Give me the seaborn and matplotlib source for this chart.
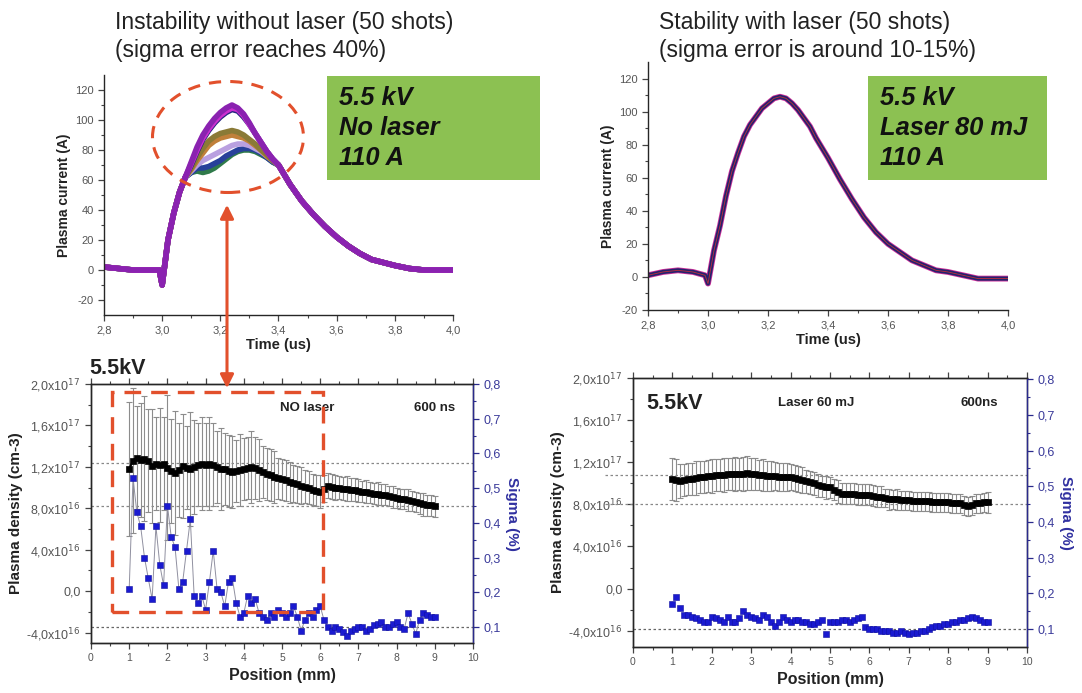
import numpy as np
import pandas as pd
import matplotlib.pyplot as plt
from matplotlib.patches import Ellipse, Rectangle, FancyArrowPatch
import seaborn as sns

sns.set_style('ticks')
plt.rcParams['font.family'] = ['Liberation Sans', 'DejaVu Sans']
plt.rcParams['axes.linewidth'] = 1.0
plt.rcParams['axes.unicode_minus'] = False

W, H = 1082, 693

# ---- plasma current traces (A) vs time (us) ----
time_us = [2.80, 2.85, 2.90, 2.95, 2.99, 3.00, 3.02, 3.04, 3.06, 3.08,
           3.10, 3.12, 3.14, 3.16, 3.18, 3.20, 3.22, 3.24, 3.26, 3.28,
           3.30, 3.32, 3.34, 3.36, 3.38, 3.40, 3.44, 3.48, 3.52, 3.56,
           3.60, 3.64, 3.68, 3.72, 3.76, 3.80, 3.85, 3.90, 3.95, 4.00]

# no laser: common rise / common decay, shot-to-shot spread around the peak
rise_nolaser = [2, 1, 0, 0, 0, -10, 20, 38, 52, 62]
tail_nolaser = [57, 46, 37, 29, 22, 16, 11, 7, 5, 3, 1, 0, 0, 0]
peak_green = [65, 66, 65, 66, 68, 71, 74, 77, 79, 80, 80, 79, 77, 75, 72, 70]
peak_blue = [65, 68, 68, 69, 71, 73, 76, 78, 80, 81, 81, 80, 78, 75, 72, 70]
peak_lilac = [66, 70, 73, 75, 77, 79, 81, 83, 84, 84, 83, 81, 79, 76, 73, 70]
peak_orange = [67, 73, 78, 83, 86, 88, 89, 90, 89, 88, 86, 83, 80, 76, 73, 70]
peak_olive = [68, 75, 81, 86, 89, 91, 92, 93, 92, 90, 87, 84, 80, 77, 73, 70]
peak_navy = [70, 79, 87, 93, 98, 102, 105, 107, 106, 102, 97, 91, 85, 79, 74, 70]
peak_purple = [72, 82, 90, 96, 101, 105, 108, 110, 108, 104, 98, 91, 85, 79, 74, 70]
peak_magenta = [71, 80, 88, 94, 99, 103, 106, 108, 107, 103, 97, 91, 85, 79, 74, 70]

# laser 80 mJ: all 50 shots overlap
current_laser = [1, 3, 4, 3, 1, -4, 16, 31, 49, 64,
                 75, 85, 92, 97, 102, 105, 108, 109, 108, 105,
                 101, 96, 91, 84, 78, 72, 59, 47, 36, 27,
                 20, 15, 10, 7, 4, 3, 1, -1, -1, -1]

# ---- plasma density (1e16 cm-3) and sigma vs position (mm) ----
position_mm = [1.0, 1.1, 1.2, 1.3, 1.4, 1.5, 1.6, 1.7, 1.8, 1.9,
               2.0, 2.1, 2.2, 2.3, 2.4, 2.5, 2.6, 2.7, 2.8, 2.9,
               3.0, 3.1, 3.2, 3.3, 3.4, 3.5, 3.6, 3.7, 3.8, 3.9,
               4.0, 4.1, 4.2, 4.3, 4.4, 4.5, 4.6, 4.7, 4.8, 4.9,
               5.0, 5.1, 5.2, 5.3, 5.4, 5.5, 5.6, 5.7, 5.8, 5.9,
               6.0, 6.1, 6.2, 6.3, 6.4, 6.5, 6.6, 6.7, 6.8, 6.9,
               7.0, 7.1, 7.2, 7.3, 7.4, 7.5, 7.6, 7.7, 7.8, 7.9,
               8.0, 8.1, 8.2, 8.3, 8.4, 8.5, 8.6, 8.7, 8.8, 8.9, 9.0]

dens_nolaser = [11.8, 12.6, 12.9, 12.7, 12.8, 12.6, 12.1, 12.3, 12.2, 12.3,
                11.9, 11.6, 11.4, 11.7, 12.1, 11.9, 11.8, 12.0, 12.2, 12.3,
                12.2, 12.3, 12.2, 12.0, 11.8, 11.8, 11.6, 11.5, 11.6, 11.7,
                11.8, 11.9, 12.0, 11.9, 11.7, 11.5, 11.3, 11.2, 11.0, 10.9,
                10.8, 10.7, 10.5, 10.4, 10.3, 10.2, 10.1, 10.0, 9.8, 9.7,
                9.6, 9.9, 10.2, 10.1, 10.0, 10.0, 9.9, 9.9, 9.8, 9.8,
                9.7, 9.6, 9.6, 9.5, 9.4, 9.4, 9.3, 9.3, 9.2, 9.1,
                9.0, 8.9, 8.9, 8.8, 8.7, 8.6, 8.5, 8.4, 8.3, 8.3, 8.2]
err_nolaser = [6.5, 7.0, 5.0, 5.5, 6.0, 5.0, 5.5, 4.5, 5.5, 4.5,
               7.0, 5.0, 6.0, 4.5, 5.0, 4.0, 5.5, 4.5, 4.0, 4.5,
               4.0, 4.5, 4.0, 3.5, 4.0, 3.5, 3.5, 3.5, 3.0, 3.5,
               3.0, 3.0, 3.5, 3.0, 3.0, 2.5, 2.5, 2.5, 2.5, 2.0,
               2.0, 2.0, 2.0, 1.8, 1.8, 1.8, 1.6, 1.6, 1.5, 1.5,
               1.6, 1.3, 1.2, 1.2, 1.2, 1.1, 1.1, 1.2, 1.1, 1.1,
               1.1, 1.0, 1.1, 1.0, 1.0, 1.1, 1.0, 1.0, 1.0, 1.1,
               1.0, 1.0, 1.0, 1.1, 1.0, 1.0, 1.0, 1.1, 1.0, 1.0, 1.0]
sigma_nolaser = [0.21, 0.53, 0.43, 0.39, 0.30, 0.24, 0.18, 0.39, 0.28, 0.22,
                 0.45, 0.36, 0.33, 0.21, 0.23, 0.32, 0.41, 0.19, 0.17, 0.19,
                 0.15, 0.23, 0.32, 0.21, 0.20, 0.16, 0.23, 0.24, 0.17, 0.13,
                 0.14, 0.19, 0.17, 0.18, 0.14, 0.13, 0.12, 0.14, 0.13, 0.15,
                 0.14, 0.13, 0.14, 0.16, 0.13, 0.09, 0.12, 0.14, 0.13, 0.15,
                 0.16, 0.12, 0.10, 0.09, 0.10, 0.095, 0.085, 0.075, 0.09, 0.095,
                 0.10, 0.10, 0.09, 0.095, 0.105, 0.11, 0.115, 0.10, 0.10, 0.11,
                 0.115, 0.10, 0.095, 0.14, 0.11, 0.08, 0.12, 0.14, 0.135, 0.13, 0.13]

dens_laser = [10.4, 10.3, 10.2, 10.3, 10.4, 10.4, 10.5, 10.6, 10.6, 10.7,
              10.7, 10.8, 10.8, 10.8, 10.9, 10.9, 10.9, 10.9, 10.9, 11.0,
              10.9, 10.9, 10.8, 10.8, 10.7, 10.7, 10.7, 10.6, 10.6, 10.6,
              10.6, 10.5, 10.4, 10.3, 10.2, 10.1, 10.0, 9.8, 9.7, 9.6,
              9.6, 9.4, 9.2, 9.0, 9.0, 9.0, 9.0, 8.9, 8.9, 8.9,
              8.9, 8.8, 8.7, 8.7, 8.6, 8.5, 8.5, 8.5, 8.4, 8.4,
              8.4, 8.3, 8.3, 8.3, 8.3, 8.3, 8.2, 8.2, 8.2, 8.2,
              8.2, 8.1, 8.1, 8.1, 7.9, 7.8, 7.9, 8.1, 8.1, 8.2, 8.2]
err_laser = [2.0, 2.0, 1.6, 1.5, 1.5, 1.5, 1.6, 1.5, 1.5, 1.5,
             1.6, 1.5, 1.5, 1.6, 1.5, 1.5, 1.6, 1.5, 1.6, 1.6,
             1.5, 1.5, 1.4, 1.5, 1.4, 1.4, 1.3, 1.3, 1.3, 1.3,
             1.2, 1.2, 1.2, 1.2, 1.1, 1.1, 1.1, 1.1, 1.0, 1.1,
             1.0, 1.0, 1.1, 1.0, 1.0, 1.0, 1.0, 1.0, 1.0, 1.0,
             1.0, 1.0, 1.0, 1.0, 0.9, 1.0, 0.9, 1.0, 0.9, 0.9,
             0.9, 0.9, 0.9, 0.9, 0.9, 0.9, 0.9, 0.9, 0.9, 0.9,
             0.9, 0.9, 0.9, 0.9, 0.9, 0.9, 0.9, 0.9, 0.9, 0.9, 1.0]
sigma_laser = [0.17, 0.19, 0.16, 0.14, 0.14, 0.135, 0.13, 0.125, 0.12, 0.12,
               0.135, 0.13, 0.125, 0.12, 0.135, 0.12, 0.12, 0.13, 0.15, 0.14,
               0.135, 0.13, 0.125, 0.14, 0.135, 0.12, 0.11, 0.12, 0.135, 0.125,
               0.12, 0.125, 0.125, 0.12, 0.12, 0.115, 0.115, 0.12, 0.125, 0.085,
               0.12, 0.12, 0.12, 0.125, 0.125, 0.12, 0.125, 0.13, 0.135, 0.105,
               0.10, 0.10, 0.10, 0.095, 0.095, 0.095, 0.09, 0.09, 0.095, 0.09,
               0.085, 0.09, 0.09, 0.095, 0.095, 0.10, 0.105, 0.11, 0.11, 0.115,
               0.115, 0.12, 0.12, 0.125, 0.125, 0.13, 0.135, 0.13, 0.125, 0.12, 0.12]

TICK_GREY = '#555555'
NAVY = '#2a2a8c'
RED = '#e2502c'
GREEN = '#8cc152'


def px_axes(fig, left, top, right, bottom):
    return fig.add_axes([left / W, 1 - bottom / H, (right - left) / W, (bottom - top) / H])


def comma(v, fmt):
    return (fmt % v).replace('.', ',')


def style_current_axes(ax, ylim):
    ax.set_xlim(2.8, 4.0)
    ax.set_ylim(*ylim)
    sns.despine(ax=ax)
    xt = [2.8, 3.0, 3.2, 3.4, 3.6, 3.8, 4.0]
    ax.set_xticks(xt)
    ax.set_xticklabels([comma(v, '%.1f') for v in xt])
    ax.set_yticks([-20, 0, 20, 40, 60, 80, 100, 120])
    ax.set_xticks(np.arange(2.9, 4.0, 0.2), minor=True)
    ax.set_yticks(np.arange(-10, 130, 20), minor=True)
    ax.tick_params(which='major', length=4, width=0.9, labelsize=8, labelcolor=TICK_GREY, color='#444444')
    ax.tick_params(which='minor', length=2, width=0.8, color='#444444')
    ax.set_xlabel('Time (us)', fontsize=10.5, fontweight='bold', labelpad=2, color='#222222')
    ax.set_ylabel('Plasma current (A)', fontsize=10, fontweight='bold', labelpad=3, color='#222222')


def style_density_axes(ax, sig_lim):
    ax.set_xlim(0, 10)
    ax.set_xticks(range(0, 11))
    ax.set_xticks(np.arange(0.5, 10, 1.0), minor=True)
    ax.set_yticks([-4, 0, 4, 8, 12, 16, 20])
    ax.set_yticklabels(['-4,0x10$^{16}$', '0,0', '4,0x10$^{16}$', '8,0x10$^{16}$',
                        '1,2x10$^{17}$', '1,6x10$^{17}$', '2,0x10$^{17}$'])
    ax.set_yticks(np.arange(-2, 20, 4), minor=True)
    ax.tick_params(which='both', top=True, color='#444444')
    ax.tick_params(which='major', length=4, width=0.9, labelcolor=TICK_GREY)
    ax.tick_params(axis='x', which='major', labelsize=7.5)
    ax.tick_params(axis='y', which='major', labelsize=9)
    ax.tick_params(which='minor', length=2, width=0.8)
    ax.set_xlabel('Position (mm)', fontsize=11.5, fontweight='bold', labelpad=3, color='#222222')
    ax.set_ylabel('Plasma density (cm-3)', fontsize=11, fontweight='bold', labelpad=2, color='#222222')
    tw = ax.twinx()
    tw.set_ylim(*sig_lim)
    st = [0.1, 0.2, 0.3, 0.4, 0.5, 0.6, 0.7, 0.8]
    tw.set_yticks(st)
    tw.set_yticklabels([comma(v, '%.1f') for v in st])
    tw.set_yticks(np.arange(0.15, 0.8, 0.1), minor=True)
    tw.tick_params(which='major', length=4, width=0.9, labelsize=9, labelcolor='#3a3a9a', color=NAVY)
    tw.tick_params(which='minor', length=2, width=0.8, color=NAVY)
    tw.spines['right'].set_color(NAVY)
    tw.set_ylabel('Sigma (%)', fontsize=11, fontweight='bold', color='#3030a0', rotation=270, labelpad=13)
    return tw


def density_panel(ax, dens, err, sig_lim):
    pos = np.array(position_mm)
    ax.errorbar(pos, dens, yerr=err, fmt='none', ecolor='#8c8c8c', elinewidth=0.8,
                capsize=2.2, capthick=0.8, zorder=2)
    ax.plot(pos, dens, color='black', lw=1.5, zorder=3)
    sns.scatterplot(x=pos, y=dens, ax=ax, marker='s', s=24, color='black',
                    edgecolor='black', linewidth=0.5, zorder=4)
    return style_density_axes(ax, sig_lim)


fig = plt.figure(figsize=(W / 100, H / 100), dpi=100)

# ---------------- top left: no laser ----------------
ax1 = px_axes(fig, 104, 75, 453, 315)
shots = {
    'green': (peak_green, '#2f7a4a'),
    'blue': (peak_blue, '#27409a'),
    'lilac': (peak_lilac, '#b9a0e0'),
    'orange': (peak_orange, '#c0803a'),
    'olive': (peak_olive, '#8a7a36'),
    'navy': (peak_navy, '#252580'),
    'magenta': (peak_magenta, '#cc2fcf'),
    'purple': (peak_purple, '#8a22b0'),
}
rows = []
for name, (peak, _) in shots.items():
    vals = rise_nolaser + peak + tail_nolaser
    for t, v in zip(time_us, vals):
        rows.append({'t': t, 'I': v, 'shot': name})
df_nolaser = pd.DataFrame(rows)
sns.lineplot(data=df_nolaser, x='t', y='I', hue='shot', ax=ax1, legend=False,
             palette={k: c for k, (_, c) in shots.items()}, lw=4.0,
             estimator=None, sort=False)
style_current_axes(ax1, (-30, 130))

# ---------------- top right: laser ----------------
ax2 = px_axes(fig, 648, 62, 1008, 310)
df_laser = pd.DataFrame({'t': time_us, 'I': current_laser})
sns.lineplot(data=df_laser, x='t', y='I', ax=ax2, color='#d0309a', lw=4.2, estimator=None, sort=False)
sns.lineplot(data=df_laser, x='t', y='I', ax=ax2, color='#23236e', lw=3.0, estimator=None, sort=False)
sns.lineplot(data=df_laser, x='t', y='I', ax=ax2, color='#c0303a', lw=0.6, estimator=None, sort=False)
style_current_axes(ax2, (-20, 130))

# ---------------- bottom left: density no laser ----------------
ax3 = px_axes(fig, 91, 384, 473, 643)
ax3.set_ylim(-5, 20)
for yv in [12.4, 8.2]:
    ax3.axhline(yv, color='#888888', ls=(0, (2, 2)), lw=0.9, zorder=1)
tw3 = density_panel(ax3, dens_nolaser, err_nolaser, (0.054, 0.8))
tw3.axhline(0.1, color='#666666', ls=(0, (2, 2)), lw=0.9, zorder=1)
tw3.plot(position_mm, sigma_nolaser, color='#9090a0', lw=0.7, zorder=2)
sns.scatterplot(x=position_mm, y=sigma_nolaser, ax=tw3, marker='s', s=20, color='#1a1ad0',
                edgecolor='#1010a0', linewidth=0.4, zorder=3)
ax3.text(5.67, 17.7, 'NO laser', fontsize=9.5, fontweight='bold', color='#222222', ha='center', va='center')
ax3.text(9.0, 17.7, '600 ns', fontsize=9.5, fontweight='bold', color='#222222', ha='center', va='center')

# ---------------- bottom right: density with laser ----------------
ax4 = px_axes(fig, 633, 378, 1027, 647)
ax4.set_ylim(-5.55, 20)
for yv in [10.8, 8.0]:
    ax4.axhline(yv, xmin=-0.07, color='#888888', ls=(0, (2, 2)), lw=0.9, zorder=1, clip_on=False)
tw4 = density_panel(ax4, dens_laser, err_laser, (0.05, 0.803))
tw4.axhline(0.1, color='#666666', ls=(0, (2, 2)), lw=0.9, zorder=1)
sns.scatterplot(x=position_mm, y=sigma_laser, ax=tw4, marker='s', s=20, color='#1a1ad0',
                edgecolor='#1010a0', linewidth=0.4, zorder=3)
ax4.text(0.35, 17.6, '5.5kV', fontsize=15.5, fontweight='bold', color='#222222', va='center')
ax4.text(4.65, 17.6, 'Laser 60 mJ', fontsize=9.5, fontweight='bold', color='#222222', ha='center', va='center')
ax4.text(8.8, 17.6, '600ns', fontsize=9.5, fontweight='bold', color='#222222', ha='center', va='center')

# ---------------- titles, boxes and annotations (figure pixels) ----------------
def fx(x):
    return x / W


def fy(y):
    return 1 - y / H


fig.text(fx(115), fy(23), 'Instability without laser (50 shots)', fontsize=16.5, va='center', color='#222222')
fig.text(fx(115), fy(50), '(sigma error reaches 40%)', fontsize=16.5, va='center', color='#222222')
fig.text(fx(659), fy(23), 'Stability with laser (50 shots)', fontsize=16.5, va='center', color='#222222')
fig.text(fx(659), fy(50), '(sigma error is around 10-15%)', fontsize=16.5, va='center', color='#222222')

for left, right, lines in [(327, 540, ['5.5 kV', 'No laser', '110 A']),
                           (868, 1047, ['5.5 kV', 'Laser 80 mJ', '110 A'])]:
    fig.patches.append(Rectangle((fx(left), fy(180)), (right - left) / W, 104 / H, transform=fig.transFigure,
                                 facecolor=GREEN, edgecolor='none', zorder=0))
    for i, s in enumerate(lines):
        fig.text(fx(left + 12), fy(98 + 30 * i), s, fontsize=18.4, fontweight='bold', style='italic',
                 va='center', color='#111111')

fig.text(fx(89), fy(368), '5.5kV', fontsize=15.5, fontweight='bold', va='center', color='#222222')

fig.patches.append(Ellipse((fx(228), fy(137)), 151 / W, 111 / H, transform=fig.transFigure,
                           fill=False, edgecolor=RED, lw=2.2, ls=(0, (4, 3))))
fig.patches.append(Rectangle((fx(112), fy(612)), 211 / W, 220 / H, transform=fig.transFigure,
                             fill=False, edgecolor=RED, lw=2.4, ls=(0, (5, 3)), zorder=5))
fig.patches.append(FancyArrowPatch((fx(227), fy(202)), (fx(227), fy(391)), transform=fig.transFigure,
                                   arrowstyle='<|-|>,head_length=8,head_width=4', color=RED,
                                   lw=2.2, mutation_scale=1, zorder=6))

fig.savefig('out.png', dpi=100)
